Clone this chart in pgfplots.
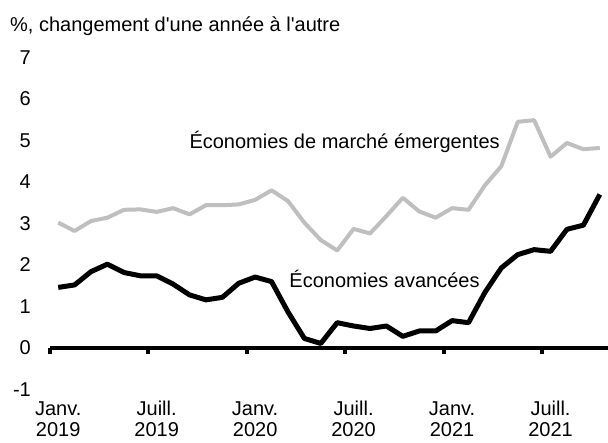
\documentclass[border=0pt]{standalone}
\usepackage{fontspec}
\setmainfont{Liberation Sans}[Ligatures=TeXOff]
\usepackage{pgfplots}
\pgfplotsset{compat=1.18}
\definecolor{emgrey}{RGB}{191,191,191}
\newcommand{\tl}[2]{\rule{0pt}{15pt}#1\\#2}
\begin{document}
\fontsize{20}{21}\selectfont
\begin{tikzpicture}
\useasboundingbox (-50pt,-52.5pt) rectangle (558pt,389.5pt);
\begin{axis}[
  at={(0,0)}, anchor=south west,
  scale only axis, width=558pt, height=332pt,
  xmin=-0.5, xmax=33.5, ymin=-1, ymax=7,
  axis line style={draw=none},
  xtick={0,6,12,18,24,30},
  xticklabels={{\tl{Janv.}{2019}},{\tl{Juill.}{2019}},{\tl{Janv.}{2020}},{\tl{Juill.}{2020}},{\tl{Janv.}{2021}},{\tl{Juill.}{2021}}},
  xticklabel style={align=center, inner sep=0pt, yshift=-11pt},
  ytick={-1,0,...,7},
  yticklabel style={inner sep=0pt, xshift=-19pt},
  major tick length=0pt,
  tick style={draw=none},
  /pgf/number format/assume math mode=true,
  ticklabel style={font=\fontsize{20}{21}\selectfont},
  clip=false,
  line join=round,
]
\draw[line width=4.5pt] (axis cs:-0.5,0) -- (axis cs:33.5,0);
\draw[line width=4pt] (axis cs:-0.5,0) -- ([yshift=-6pt]axis cs:-0.5,0);
\draw[line width=4pt] (axis cs:5.5,0) -- ([yshift=-6pt]axis cs:5.5,0);
\draw[line width=4pt] (axis cs:11.5,0) -- ([yshift=-6pt]axis cs:11.5,0);
\draw[line width=4pt] (axis cs:17.5,0) -- ([yshift=-6pt]axis cs:17.5,0);
\draw[line width=4pt] (axis cs:23.5,0) -- ([yshift=-6pt]axis cs:23.5,0);
\draw[line width=4pt] (axis cs:29.5,0) -- ([yshift=-6pt]axis cs:29.5,0);

% Economies de marche emergentes
\addplot[emgrey, line width=4pt, no marks] coordinates {
(0,3.02) (1,2.82) (2,3.06) (3,3.14) (4,3.33) (5,3.34) (6,3.28) (7,3.37)
(8,3.22) (9,3.44) (10,3.44) (11,3.46) (12,3.57) (13,3.80) (14,3.54) (15,3.02)
(16,2.60) (17,2.35) (18,2.87) (19,2.76) (20,3.18) (21,3.62) (22,3.29) (23,3.14)
(24,3.37) (25,3.33) (26,3.92) (27,4.38) (28,5.45) (29,5.49) (30,4.61) (31,4.94)
(32,4.79) (33,4.82)};

% Economies avancees
\addplot[black, line width=5pt, no marks] coordinates {
(0,1.46) (1,1.52) (2,1.84) (3,2.02) (4,1.82) (5,1.74) (6,1.74) (7,1.54)
(8,1.28) (9,1.16) (10,1.22) (11,1.56) (12,1.71) (13,1.60) (14,0.87) (15,0.23)
(16,0.11) (17,0.61) (18,0.53) (19,0.47) (20,0.53) (21,0.28) (22,0.41) (23,0.41)
(24,0.66) (25,0.61) (26,1.34) (27,1.93) (28,2.25) (29,2.37) (30,2.33) (31,2.86)
(32,2.96) (33,3.70)};

\node[anchor=base west, inner sep=0pt] at (axis cs:7.99,4.80) {Économies de marché émergentes};
\node[anchor=base west, inner sep=0pt] at (axis cs:14.08,1.446) {Économies avancées};
\end{axis}
\node[anchor=base west, inner sep=0pt] at (-40pt,357.8pt) {\%, changement d'une année à l'autre};
\end{tikzpicture}
\end{document}
